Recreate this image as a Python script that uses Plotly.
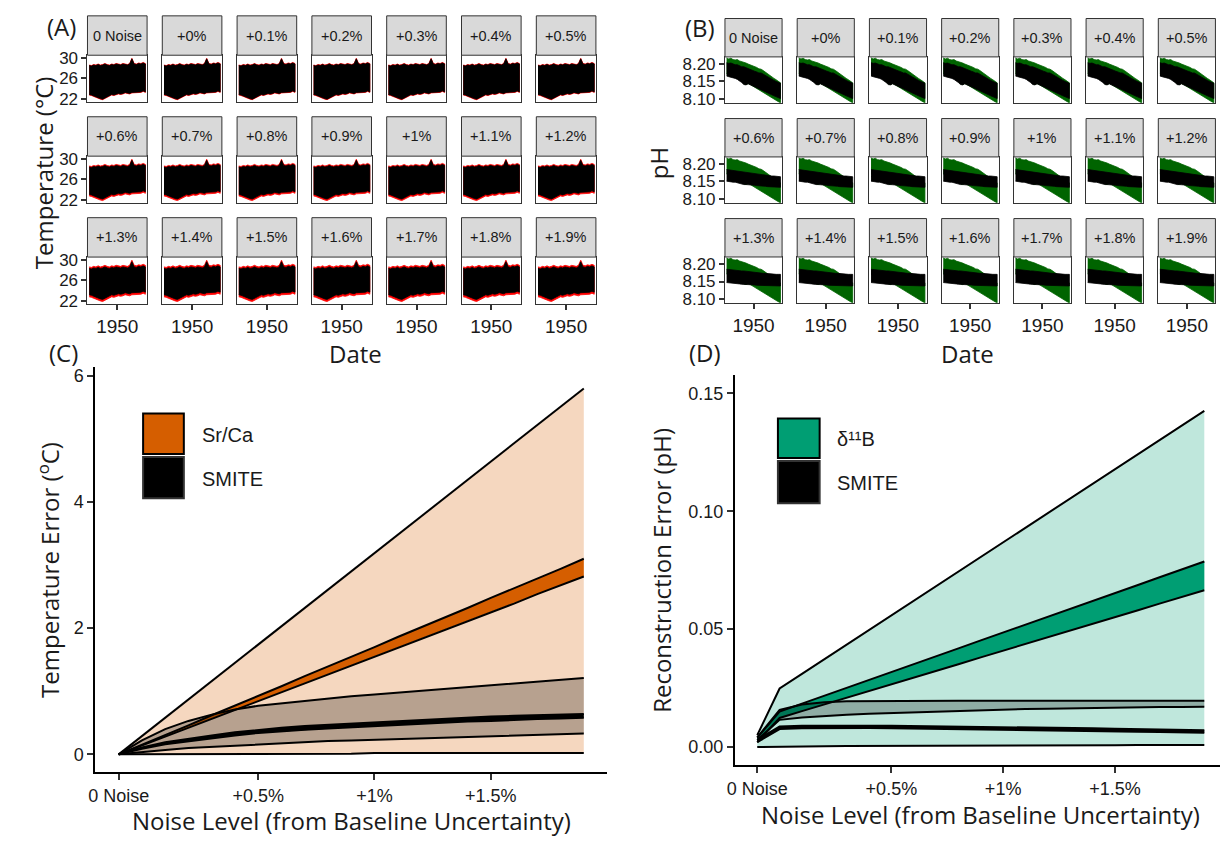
import plotly.graph_objects as go

W, H = 1220, 843

# ---------------- data ----------------
noise_levels = ["0 Noise", "+0%", "+0.1%", "+0.2%", "+0.3%", "+0.4%", "+0.5%",
                "+0.6%", "+0.7%", "+0.8%", "+0.9%", "+1%", "+1.1%", "+1.2%",
                "+1.3%", "+1.4%", "+1.5%", "+1.6%", "+1.7%", "+1.8%", "+1.9%"]
noise_ticks = ["0 Noise", "+0.5%", "+1%", "+1.5%"]

years = [1900, 1904, 1908, 1912, 1916, 1920, 1924, 1928, 1932, 1936, 1940, 1944, 1948,
         1952, 1956, 1960, 1964, 1968, 1972, 1976, 1980, 1984, 1988, 1992, 1996, 2000]

# temperature envelopes (instrumental = red, reconstruction = black)
sst_inst_hi = [28.6, 28.5, 28.7, 28.6, 28.8, 28.6, 28.7, 28.9, 28.7, 28.6, 28.8, 28.7, 28.9,
               28.8, 28.7, 28.9, 28.8, 28.7, 28.9, 29.9, 28.9, 28.8, 29.0, 28.9, 29.1, 28.9]
sst_inst_lo = [22.8, 22.7, 22.6, 22.4, 22.2, 22.0, 21.9, 22.1, 22.4, 22.6, 22.8, 22.7, 22.9,
               23.0, 22.9, 23.0, 23.2, 23.1, 23.0, 23.2, 23.3, 23.2, 23.3, 23.3, 23.5, 23.3]
sst_rec_hi_r1 = [28.5, 28.4, 28.6, 28.5, 28.7, 28.5, 28.6, 28.8, 28.6, 28.5, 28.7, 28.6, 28.8,
                 28.7, 28.6, 28.8, 28.7, 28.6, 28.8, 29.8, 28.8, 28.7, 28.9, 28.8, 29.0, 28.8]
sst_rec_lo_r1 = [22.9, 22.8, 22.7, 22.5, 22.3, 22.1, 22.0, 22.2, 22.5, 22.7, 22.9, 22.8, 23.0,
                 23.1, 23.0, 23.1, 23.3, 23.2, 23.1, 23.3, 23.4, 23.3, 23.4, 23.4, 23.6, 23.4]
sst_rec_hi_r2 = [28.4, 28.3, 28.5, 28.4, 28.6, 28.4, 28.5, 28.7, 28.5, 28.4, 28.6, 28.5, 28.7,
                 28.6, 28.5, 28.7, 28.6, 28.5, 28.7, 29.7, 28.7, 28.6, 28.8, 28.7, 28.9, 28.7]
sst_rec_lo_r2 = [23.1, 23.0, 22.9, 22.7, 22.5, 22.3, 22.2, 22.4, 22.7, 22.9, 23.1, 23.0, 23.2,
                 23.3, 23.2, 23.3, 23.5, 23.4, 23.3, 23.5, 23.6, 23.5, 23.6, 23.6, 23.8, 23.6]
sst_rec_hi_r3 = [28.3, 28.2, 28.4, 28.3, 28.5, 28.3, 28.4, 28.6, 28.4, 28.3, 28.5, 28.4, 28.6,
                 28.5, 28.4, 28.6, 28.5, 28.4, 28.6, 29.6, 28.6, 28.5, 28.7, 28.6, 28.8, 28.6]
sst_rec_lo_r3 = [23.2, 23.1, 23.0, 22.8, 22.6, 22.4, 22.3, 22.5, 22.8, 23.0, 23.2, 23.1, 23.3,
                 23.4, 23.3, 23.4, 23.6, 23.5, 23.4, 23.6, 23.7, 23.6, 23.7, 23.7, 23.9, 23.7]

# pH envelopes (instrumental = green, reconstruction = black)
ph_inst_hi = [8.219, 8.216, 8.218, 8.214, 8.213, 8.214, 8.210, 8.208, 8.208, 8.204, 8.201, 8.199, 8.196,
              8.193, 8.191, 8.187, 8.186, 8.182, 8.177, 8.173, 8.168, 8.164, 8.159, 8.155, 8.150, 8.146]
ph_inst_lo = [8.172, 8.170, 8.168, 8.166, 8.164, 8.160, 8.156, 8.150, 8.143, 8.141, 8.144, 8.141, 8.138,
              8.135, 8.131, 8.127, 8.122, 8.119, 8.115, 8.111, 8.107, 8.103, 8.099, 8.095, 8.091, 8.087]
ph_rec_hi_r1 = [8.205, 8.203, 8.204, 8.201, 8.199, 8.199, 8.196, 8.193, 8.193, 8.190, 8.187, 8.185, 8.183,
                8.180, 8.178, 8.175, 8.175, 8.171, 8.167, 8.164, 8.160, 8.157, 8.153, 8.150, 8.147, 8.145]
ph_rec_lo_r1 = [8.166, 8.164, 8.162, 8.160, 8.159, 8.156, 8.152, 8.147, 8.141, 8.140, 8.143, 8.141, 8.138,
                8.136, 8.133, 8.130, 8.126, 8.124, 8.120, 8.117, 8.114, 8.111, 8.108, 8.105, 8.102, 8.100]
ph_rec_hi_r2 = [8.185, 8.184, 8.185, 8.183, 8.182, 8.182, 8.180, 8.179, 8.179, 8.177, 8.176, 8.175, 8.174,
                8.173, 8.172, 8.171, 8.171, 8.170, 8.169, 8.168, 8.167, 8.166, 8.166, 8.165, 8.165, 8.164]
ph_rec_lo_r2 = [8.151, 8.150, 8.149, 8.148, 8.148, 8.146, 8.145, 8.143, 8.141, 8.141, 8.142, 8.141, 8.140,
                8.139, 8.138, 8.138, 8.137, 8.136, 8.136, 8.135, 8.135, 8.134, 8.134, 8.133, 8.133, 8.133]
ph_rec_hi_r3 = [8.186, 8.185, 8.186, 8.184, 8.183, 8.183, 8.182, 8.181, 8.181, 8.180, 8.179, 8.178, 8.178,
                8.177, 8.176, 8.175, 8.175, 8.174, 8.174, 8.173, 8.173, 8.172, 8.172, 8.171, 8.171, 8.171]
ph_rec_lo_r3 = [8.147, 8.146, 8.146, 8.145, 8.145, 8.144, 8.143, 8.142, 8.141, 8.141, 8.141, 8.140, 8.140,
                8.140, 8.139, 8.139, 8.139, 8.138, 8.138, 8.138, 8.137, 8.137, 8.137, 8.137, 8.137, 8.137]

# temperature error vs noise level
srca_outer_hi = [0.00, 0.29, 0.58, 0.87, 1.16, 1.45, 1.74, 2.03, 2.32, 2.61, 2.90, 3.19, 3.48,
                 3.77, 4.06, 4.35, 4.64, 4.93, 5.22, 5.51, 5.80]
srca_outer_lo = [0.00, 0.00, 0.00, 0.00, 0.01, 0.01, 0.01, 0.01, 0.01, 0.01, 0.01, 0.02, 0.02,
                 0.02, 0.02, 0.02, 0.02, 0.02, 0.02, 0.02, 0.02]
srca_mean_hi = [0.00, 0.15, 0.31, 0.46, 0.62, 0.77, 0.93, 1.08, 1.24, 1.39, 1.55, 1.70, 1.86,
                2.01, 2.17, 2.32, 2.48, 2.63, 2.79, 2.94, 3.10]
srca_mean_lo = [0.00, 0.14, 0.28, 0.42, 0.56, 0.70, 0.85, 0.99, 1.13, 1.27, 1.41, 1.55, 1.69,
                1.83, 1.97, 2.11, 2.25, 2.39, 2.54, 2.68, 2.82]
smite_t_outer_hi = [0.00, 0.22, 0.40, 0.53, 0.63, 0.71, 0.77, 0.81, 0.85, 0.89, 0.92, 0.95, 0.98,
                    1.01, 1.04, 1.07, 1.10, 1.13, 1.16, 1.18, 1.21]
smite_t_outer_lo = [0.00, 0.04, 0.07, 0.10, 0.12, 0.14, 0.16, 0.18, 0.19, 0.21, 0.22, 0.23, 0.25,
                    0.26, 0.27, 0.28, 0.29, 0.30, 0.31, 0.32, 0.33]
smite_t_mean_hi = [0.00, 0.11, 0.19, 0.25, 0.30, 0.35, 0.39, 0.42, 0.45, 0.47, 0.49, 0.51, 0.53,
                   0.55, 0.57, 0.58, 0.60, 0.61, 0.62, 0.63, 0.64]
smite_t_mean_lo = [0.00, 0.09, 0.16, 0.21, 0.26, 0.30, 0.34, 0.37, 0.39, 0.41, 0.43, 0.45, 0.47,
                   0.49, 0.50, 0.52, 0.53, 0.55, 0.56, 0.57, 0.58]

# pH error vs noise level
d11b_outer_hi = [0.0050, 0.0248, 0.0310, 0.0372, 0.0434, 0.0496, 0.0558, 0.0620, 0.0682, 0.0744, 0.0806,
                 0.0868, 0.0930, 0.0992, 0.1054, 0.1116, 0.1178, 0.1240, 0.1302, 0.1364, 0.1426]
d11b_outer_lo = [0.0000, 0.0002, 0.0003, 0.0003, 0.0004, 0.0004, 0.0005, 0.0005, 0.0005, 0.0006, 0.0006,
                 0.0006, 0.0006, 0.0007, 0.0007, 0.0007, 0.0007, 0.0008, 0.0008, 0.0008, 0.0008]
d11b_mean_hi = [0.0040, 0.0150, 0.0184, 0.0217, 0.0251, 0.0284, 0.0318, 0.0351, 0.0385, 0.0418, 0.0452,
                0.0485, 0.0519, 0.0552, 0.0586, 0.0619, 0.0653, 0.0686, 0.0720, 0.0753, 0.0787]
d11b_mean_lo = [0.0020, 0.0123, 0.0152, 0.0180, 0.0209, 0.0237, 0.0266, 0.0294, 0.0323, 0.0351, 0.0380,
                0.0408, 0.0437, 0.0465, 0.0494, 0.0522, 0.0551, 0.0579, 0.0608, 0.0636, 0.0665]
smite_p_outer_hi = [0.0040, 0.0157, 0.0180, 0.0190, 0.0194, 0.0195, 0.0196, 0.0196, 0.0196, 0.0196, 0.0196,
                    0.0196, 0.0196, 0.0196, 0.0196, 0.0196, 0.0196, 0.0196, 0.0196, 0.0196, 0.0196]
smite_p_outer_lo = [0.0030, 0.0115, 0.0125, 0.0132, 0.0137, 0.0141, 0.0144, 0.0148, 0.0151, 0.0154, 0.0157,
                    0.0159, 0.0161, 0.0162, 0.0164, 0.0165, 0.0166, 0.0168, 0.0169, 0.0170, 0.0171]
smite_p_mean_hi = [0.0030, 0.0087, 0.0090, 0.0091, 0.0091, 0.0090, 0.0090, 0.0089, 0.0088, 0.0087, 0.0086,
                   0.0085, 0.0083, 0.0082, 0.0080, 0.0079, 0.0077, 0.0076, 0.0074, 0.0073, 0.0071]
smite_p_mean_lo = [0.0020, 0.0076, 0.0079, 0.0080, 0.0080, 0.0080, 0.0079, 0.0078, 0.0077, 0.0076, 0.0075,
                   0.0074, 0.0072, 0.0071, 0.0069, 0.0068, 0.0066, 0.0065, 0.0063, 0.0062, 0.0060]

# ---------------- styling ----------------
TXT = "Liberation Sans, Arial, sans-serif"
TITLE = "Open Sans, Liberation Sans, sans-serif"
INK = "#1a1a1a"
RED, DKGREEN = "#ff0000", "#006400"
VERMILLION, PEACH = "#d55e00", "#f5d7bf"
BLUEGREEN, PALEGREEN = "#009e73", "#bfe7dc"
SHADE = "rgba(0,0,0,0.25)"
EDGE = 2.0

fig = go.Figure()
axes = {}
shapes = []
annotations = []
counter = [0]


def fx(x):
    return min(max(x / W, 0.0), 1.0)


def fy(y):
    return min(max(1 - y / H, 0.0), 1.0)


def add_axes(box, xcfg, ycfg):
    left, top, right, bottom = box
    counter[0] += 1
    k = counter[0]
    s = "" if k == 1 else str(k)
    axes["xaxis" + s] = dict(domain=[fx(left), fx(right)], anchor="y" + s, **xcfg)
    axes["yaxis" + s] = dict(domain=[fy(bottom), fy(top)], anchor="x" + s, **ycfg)
    return "x" + s, "y" + s


def band(xs, lo, hi, color, xa, ya, edge=0):
    fig.add_trace(go.Scatter(x=list(xs) + list(xs)[::-1], y=list(hi) + list(lo)[::-1],
                             fill="toself", fillcolor=color, mode="lines",
                             line=dict(width=edge, color=color),
                             xaxis=xa, yaxis=ya, hoverinfo="skip"))


def line(xs, ys, width, xa, ya):
    fig.add_trace(go.Scatter(x=xs, y=ys, mode="lines", line=dict(color="black", width=width),
                             xaxis=xa, yaxis=ya, hoverinfo="skip"))


def text(x, y, s, size, font=TXT, angle=0, anchor="center", color=INK):
    annotations.append(dict(x=fx(x), y=fy(y), xref="paper", yref="paper", text=s,
                            showarrow=False, textangle=angle, xanchor=anchor, yanchor="middle",
                            font=dict(family=font, size=size, color=color)))


def rect(x0, y0, x1, y1, fill, border, width):
    shapes.append(dict(type="rect", xref="paper", yref="paper", x0=fx(x0), x1=fx(x1),
                       y0=fy(y1), y1=fy(y0), fillcolor=fill, line=dict(color=border, width=width)))


# ---------------- small multiples ----------------
def facet_grid(col0, col_step, width, strip_top0, row_step, strip_h, panel_h,
               yrange, yticks, ylabels, inst, recs, inst_color):
    inst_hi, inst_lo = inst
    for i, label in enumerate(noise_levels):
        r, c = divmod(i, 7)
        left = col0 + c * col_step
        right = left + width
        s_top = strip_top0 + r * row_step
        p_top = s_top + strip_h
        p_bot = p_top + panel_h
        bottom_row = r == 2
        first_col = c == 0
        xa, ya = add_axes(
            (left, p_top, right, p_bot),
            dict(range=[1897, 2003], showgrid=False, zeroline=False, showline=True, mirror=True,
                 linecolor="#333333", linewidth=1, tickvals=[1950], ticktext=["1950"],
                 ticks="outside" if bottom_row else "", ticklen=5, tickwidth=1.5, tickcolor="#333333",
                 showticklabels=bottom_row, tickfont=dict(family=TXT, size=19, color=INK)),
            dict(range=yrange, showgrid=False, zeroline=False, showline=True, mirror=True,
                 linecolor="#333333", linewidth=1, tickvals=yticks, ticktext=ylabels,
                 ticks="outside" if first_col else "", ticklen=5, tickwidth=1.5, tickcolor="#333333",
                 showticklabels=first_col, tickfont=dict(family=TXT, size=17, color=INK)),
        )
        rec_hi, rec_lo = recs[r]
        band(years, inst_lo, inst_hi, inst_color, xa, ya, edge=0.8)
        band(years, rec_lo, rec_hi, "#000000", xa, ya, edge=0.8)
        rect(left, s_top, right, p_top, "#d9d9d9", "#333333", 1)
        text((left + right) / 2, s_top + strip_h / 2, label, 14.5)


facet_grid(80, 75.3, 60, 10, 102.5, 40, 48,
           [21.35, 30.5], [22, 26, 30], ["22", "26", "30"],
           (sst_inst_hi, sst_inst_lo),
           [(sst_rec_hi_r1, sst_rec_lo_r1), (sst_rec_hi_r2, sst_rec_lo_r2), (sst_rec_hi_r3, sst_rec_lo_r3)],
           RED)
facet_grid(721.7, 72.7, 57.5, 12.7, 101.6, 39, 46.6,
           [8.0876, 8.2219], [8.10, 8.15, 8.20], ["8.10", "8.15", "8.20"],
           (ph_inst_hi, ph_inst_lo),
           [(ph_rec_hi_r1, ph_rec_lo_r1), (ph_rec_hi_r2, ph_rec_lo_r2), (ph_rec_hi_r3, ph_rec_lo_r3)],
           DKGREEN)

# ---------------- error panels ----------------
noise_x = list(range(1, len(noise_levels) + 1))
tick_pos = [noise_x[noise_levels.index(t)] for t in noise_ticks]


def error_axes(box, xmax, yrange, yticks, ylabels):
    return add_axes(
        box,
        dict(range=[0, xmax], showgrid=False, zeroline=False, showline=True, linecolor="black",
             linewidth=2, tickvals=tick_pos, ticktext=noise_ticks, ticks="outside", ticklen=6,
             tickwidth=2, tickcolor="#333333", tickfont=dict(family=TXT, size=18, color=INK)),
        dict(range=yrange, showgrid=False, zeroline=False, showline=True, linecolor="black",
             linewidth=2, tickvals=yticks, ticktext=ylabels, ticks="outside", ticklen=6,
             tickwidth=2, tickcolor="#333333", tickfont=dict(family=TXT, size=18, color=INK)),
    )


def ribbon(xs, lo, hi, fill, xa, ya):
    band(xs, lo, hi, fill, xa, ya)
    line(xs, hi, EDGE, xa, ya)
    line(xs, lo, EDGE, xa, ya)


xc, yc = error_axes((88, 367, 603, 778), 22, [-0.28, 6.135], [0, 2, 4, 6], ["0", "2", "4", "6"])
ribbon(noise_x, srca_outer_lo, srca_outer_hi, PEACH, xc, yc)
ribbon(noise_x, srca_mean_lo, srca_mean_hi, VERMILLION, xc, yc)
ribbon(noise_x, smite_t_outer_lo, smite_t_outer_hi, SHADE, xc, yc)
ribbon(noise_x, smite_t_mean_lo, smite_t_mean_hi, "#000000", xc, yc)

xd, yd = error_axes((731.7, 375, W, 771), (W - 731.7) / 22.5, [-0.0077, 0.1577],
                    [0, 0.05, 0.10, 0.15], ["0.00", "0.05", "0.10", "0.15"])
ribbon(noise_x, d11b_outer_lo, d11b_outer_hi, PALEGREEN, xd, yd)
ribbon(noise_x, d11b_mean_lo, d11b_mean_hi, BLUEGREEN, xd, yd)
ribbon(noise_x, smite_p_outer_lo, smite_p_outer_hi, SHADE, xd, yd)
ribbon(noise_x, smite_p_mean_lo, smite_p_mean_hi, "#000000", xd, yd)

# legend keys
rect(136, 414, 177, 455, VERMILLION, "black", 2)
rect(136, 458, 177, 500, "black", "#333333", 2)
text(193, 436, "Sr/Ca", 20, anchor="left")
text(193, 480, "SMITE", 20, anchor="left")

rect(775, 419, 817, 459, BLUEGREEN, "black", 2)
rect(775, 462, 817, 505, "black", "#333333", 2)
text(832, 440, "δ¹¹B", 20, anchor="left")
text(832, 484, "SMITE", 20, anchor="left")

# titles and panel tags
text(36, 169, "Temperature (°C)", 24, font=TITLE, angle=-90)
text(350, 353, "Date", 24, font=TITLE)
text(655, 160, "pH", 24, font=TITLE, angle=-90)
text(966, 353, "Date", 24, font=TITLE)
text(40, 573, "Temperature Error (<sup>o</sup>C)", 24, font=TITLE, angle=-90)
text(346, 827, "Noise Level (from Baseline Uncertainty)", 24, font=TITLE)
text(657, 573, "Reconstruction Error (pH)", 24, font=TITLE, angle=-90)
text(979, 821, "Noise Level (from Baseline Uncertainty)", 24, font=TITLE)
text(54, 21, "(A)", 24, font=TITLE)
text(697, 22, "(B)", 24, font=TITLE)
text(56, 352, "(C)", 24, font=TITLE)
text(702, 352, "(D)", 24, font=TITLE)

fig.update_layout(width=W, height=H, margin=dict(l=0, r=0, t=0, b=0),
                  paper_bgcolor="white", plot_bgcolor="white", showlegend=False,
                  shapes=shapes, annotations=annotations, **axes)
fig.write_html("out.html")
